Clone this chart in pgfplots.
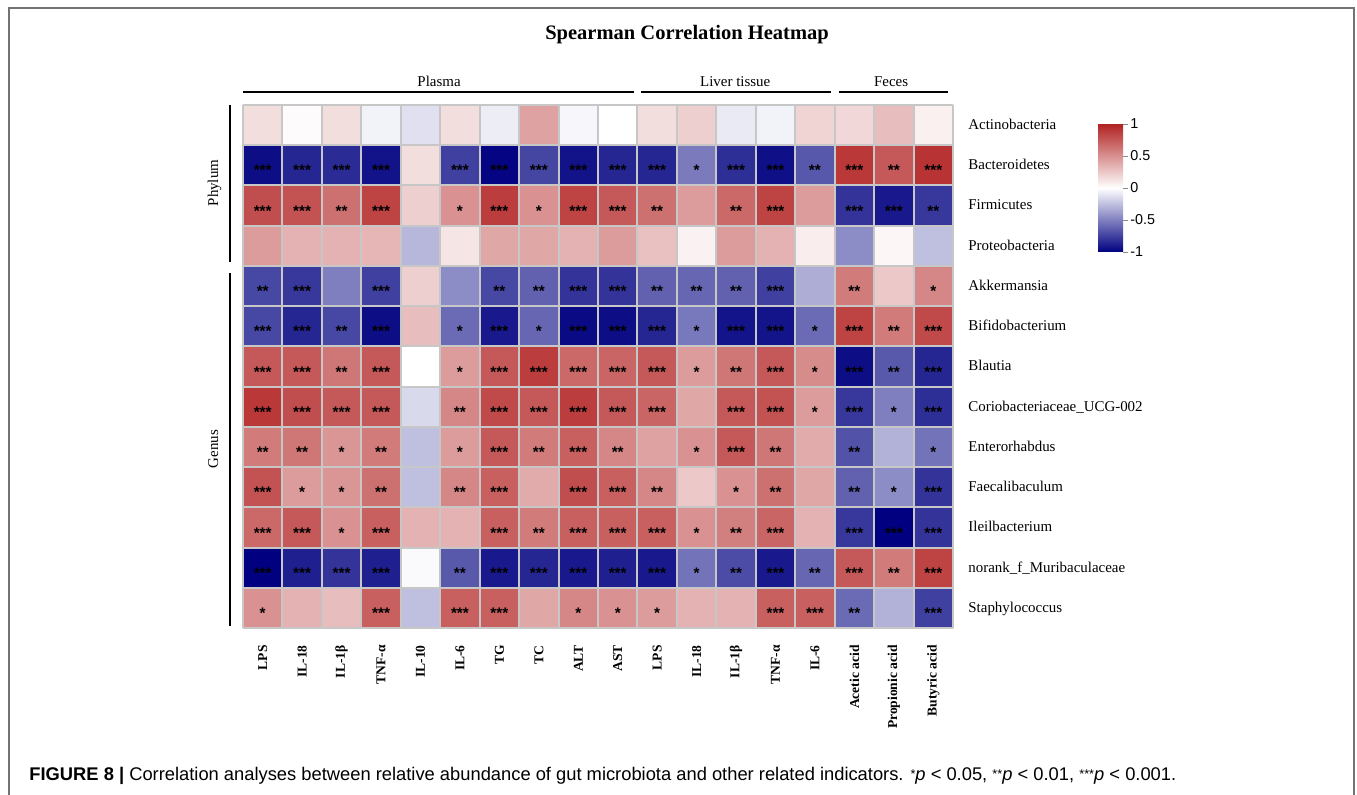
\documentclass[border=0pt]{standalone}
\usepackage{pgfplots}
\pgfplotsset{compat=1.18}
\usepackage{fontspec}
\setmainfont{Liberation Serif}
\setsansfont{Liberation Sans}
\newcommand\fs[1]{\fontsize{#1}{#1}\selectfont}
\newcommand\sast[1]{{\fs{6.4}\raisebox{1.3bp}{#1}}}
\tikzset{
  rl/.style={font=\fs{7.5}, anchor=base west, inner sep=0pt, yshift=-2.2bp},
  cl/.style={font=\bfseries\fs{6.8}, rotate=90, anchor=east, inner sep=0pt},
}
\begin{document}
\begin{tikzpicture}
\begin{axis}[
  x=19.722bp, y=20.115bp, y dir=reverse,
  xmin=-0.5, xmax=17.5, ymin=-0.5, ymax=12.5,
  clip=false, axis on top,
  axis line style={draw=none},
  xtick={-0.5,0.5,...,17.5}, ytick={-0.5,0.5,...,12.5},
  xticklabels={}, yticklabels={},
  major tick length=0pt,
  grid=major, major grid style={draw=black!22, line width=1bp},
  colormap={rwb}{rgb255=(0,0,128) rgb255=(255,255,255) rgb255=(178,34,34)},
  point meta min=-1, point meta max=1,
  colorbar,
  colorbar style={
    y dir=normal,
    at={(parent axis.north east)}, anchor=north west,
    xshift=64bp, yshift=-9.5bp,
    width=12.5bp, height=64bp,
    grid=none,
    ytick={-1,-0.5,0,0.5,1}, yticklabels={-1,-0.5,0,0.5,1},
    ytick pos=right, yticklabel pos=right,
    yticklabel style={font=\sffamily\fs{7.2}, inner sep=1bp},
    axis line style={draw=none},
    major tick length=2.5bp,
    tick align=outside,
    major tick style={draw=black!45, line width=0.4bp},
  },
]
\addplot[matrix plot*, mesh/cols=18, point meta=explicit] table[meta=c, row sep=\\] {
x y c\\
0 0 0.15\\ 1 0 0.02\\ 2 0 0.15\\ 3 0 -0.05\\ 4 0 -0.12\\ 5 0 0.15\\ 6 0 -0.07\\ 7 0 0.42\\ 8 0 -0.03\\ 9 0 0.00\\ 10 0 0.15\\ 11 0 0.22\\ 12 0 -0.08\\ 13 0 -0.05\\ 14 0 0.20\\ 15 0 0.18\\ 16 0 0.30\\ 17 0 0.07\\
0 1 -0.95\\ 1 1 -0.85\\ 2 1 -0.83\\ 3 1 -0.93\\ 4 1 0.15\\ 5 1 -0.75\\ 6 1 -0.98\\ 7 1 -0.73\\ 8 1 -0.93\\ 9 1 -0.85\\ 10 1 -0.85\\ 11 1 -0.52\\ 12 1 -0.82\\ 13 1 -0.94\\ 14 1 -0.66\\ 15 1 0.90\\ 16 1 0.75\\ 17 1 0.92\\
0 2 0.80\\ 1 2 0.78\\ 2 2 0.65\\ 3 2 0.85\\ 4 2 0.22\\ 5 2 0.50\\ 6 2 0.88\\ 7 2 0.50\\ 8 2 0.85\\ 9 2 0.75\\ 10 2 0.65\\ 11 2 0.45\\ 12 2 0.68\\ 13 2 0.85\\ 14 2 0.45\\ 15 2 -0.80\\ 16 2 -0.90\\ 17 2 -0.78\\
0 3 0.45\\ 1 3 0.35\\ 2 3 0.35\\ 3 3 0.33\\ 4 3 -0.28\\ 5 3 0.12\\ 6 3 0.40\\ 7 3 0.40\\ 8 3 0.35\\ 9 3 0.45\\ 10 3 0.28\\ 11 3 0.06\\ 12 3 0.45\\ 13 3 0.35\\ 14 3 0.08\\ 15 3 -0.45\\ 16 3 0.04\\ 17 3 -0.25\\
0 4 -0.72\\ 1 4 -0.78\\ 2 4 -0.50\\ 3 4 -0.75\\ 4 4 0.22\\ 5 4 -0.45\\ 6 4 -0.72\\ 7 4 -0.62\\ 8 4 -0.80\\ 9 4 -0.80\\ 10 4 -0.62\\ 11 4 -0.60\\ 12 4 -0.62\\ 13 4 -0.75\\ 14 4 -0.32\\ 15 4 0.60\\ 16 4 0.25\\ 17 4 0.55\\
0 5 -0.72\\ 1 5 -0.85\\ 2 5 -0.72\\ 3 5 -0.95\\ 4 5 0.30\\ 5 5 -0.58\\ 6 5 -0.90\\ 7 5 -0.60\\ 8 5 -0.96\\ 9 5 -0.95\\ 10 5 -0.85\\ 11 5 -0.53\\ 12 5 -0.92\\ 13 5 -0.92\\ 14 5 -0.58\\ 15 5 0.85\\ 16 5 0.60\\ 17 5 0.82\\
0 6 0.75\\ 1 6 0.75\\ 2 6 0.62\\ 3 6 0.75\\ 4 6 0.00\\ 5 6 0.45\\ 6 6 0.75\\ 7 6 0.88\\ 8 6 0.68\\ 9 6 0.70\\ 10 6 0.75\\ 11 6 0.45\\ 12 6 0.62\\ 13 6 0.75\\ 14 6 0.52\\ 15 6 -0.95\\ 16 6 -0.65\\ 17 6 -0.85\\
0 7 0.90\\ 1 7 0.80\\ 2 7 0.75\\ 3 7 0.75\\ 4 7 -0.15\\ 5 7 0.55\\ 6 7 0.82\\ 7 7 0.75\\ 8 7 0.88\\ 9 7 0.75\\ 10 7 0.70\\ 11 7 0.40\\ 12 7 0.75\\ 13 7 0.78\\ 14 7 0.45\\ 15 7 -0.78\\ 16 7 -0.50\\ 17 7 -0.82\\
0 8 0.60\\ 1 8 0.62\\ 2 8 0.48\\ 3 8 0.60\\ 4 8 -0.25\\ 5 8 0.45\\ 6 8 0.75\\ 7 8 0.60\\ 8 8 0.72\\ 9 8 0.55\\ 10 8 0.42\\ 11 8 0.50\\ 12 8 0.75\\ 13 8 0.62\\ 14 8 0.38\\ 15 8 -0.68\\ 16 8 -0.30\\ 17 8 -0.55\\
0 9 0.78\\ 1 9 0.45\\ 2 9 0.48\\ 3 9 0.65\\ 4 9 -0.25\\ 5 9 0.55\\ 6 9 0.72\\ 7 9 0.38\\ 8 9 0.80\\ 9 9 0.72\\ 10 9 0.55\\ 11 9 0.25\\ 12 9 0.50\\ 13 9 0.65\\ 14 9 0.40\\ 15 9 -0.62\\ 16 9 -0.45\\ 17 9 -0.80\\
0 10 0.68\\ 1 10 0.75\\ 2 10 0.50\\ 3 10 0.72\\ 4 10 0.35\\ 5 10 0.35\\ 6 10 0.72\\ 7 10 0.60\\ 8 10 0.72\\ 9 10 0.72\\ 10 10 0.72\\ 11 10 0.50\\ 12 10 0.58\\ 13 10 0.70\\ 14 10 0.35\\ 15 10 -0.78\\ 16 10 -1.00\\ 17 10 -0.80\\
0 11 -1.00\\ 1 11 -0.88\\ 2 11 -0.80\\ 3 11 -0.88\\ 4 11 -0.02\\ 5 11 -0.65\\ 6 11 -0.90\\ 7 11 -0.85\\ 8 11 -0.90\\ 9 11 -0.88\\ 10 11 -0.90\\ 11 11 -0.55\\ 12 11 -0.70\\ 13 11 -0.90\\ 14 11 -0.60\\ 15 11 0.75\\ 16 11 0.60\\ 17 11 0.85\\
0 12 0.50\\ 1 12 0.35\\ 2 12 0.30\\ 3 12 0.72\\ 4 12 -0.25\\ 5 12 0.72\\ 6 12 0.72\\ 7 12 0.40\\ 8 12 0.55\\ 9 12 0.50\\ 10 12 0.45\\ 11 12 0.35\\ 12 12 0.35\\ 13 12 0.72\\ 14 12 0.72\\ 15 12 -0.58\\ 16 12 -0.30\\ 17 12 -0.75\\
};
\addplot[draw=none, mark=none, point meta=explicit symbolic, nodes near coords,
  nodes near coords style={anchor=base, inner sep=0pt, yshift=-5.3bp, text=black, font=\sffamily\bfseries\fs{7.7}}]
  table[meta=s, row sep=\\] {
x y s\\
0 1 ***\\ 1 1 ***\\ 2 1 ***\\ 3 1 ***\\ 5 1 ***\\ 6 1 ***\\ 7 1 ***\\ 8 1 ***\\ 9 1 ***\\ 10 1 ***\\ 11 1 *\\ 12 1 ***\\ 13 1 ***\\ 14 1 **\\ 15 1 ***\\ 16 1 **\\ 17 1 ***\\
0 2 ***\\ 1 2 ***\\ 2 2 **\\ 3 2 ***\\ 5 2 *\\ 6 2 ***\\ 7 2 *\\ 8 2 ***\\ 9 2 ***\\ 10 2 **\\ 12 2 **\\ 13 2 ***\\ 15 2 ***\\ 16 2 ***\\ 17 2 **\\
0 4 **\\ 1 4 ***\\ 3 4 ***\\ 6 4 **\\ 7 4 **\\ 8 4 ***\\ 9 4 ***\\ 10 4 **\\ 11 4 **\\ 12 4 **\\ 13 4 ***\\ 15 4 **\\ 17 4 *\\
0 5 ***\\ 1 5 ***\\ 2 5 **\\ 3 5 ***\\ 5 5 *\\ 6 5 ***\\ 7 5 *\\ 8 5 ***\\ 9 5 ***\\ 10 5 ***\\ 11 5 *\\ 12 5 ***\\ 13 5 ***\\ 14 5 *\\ 15 5 ***\\ 16 5 **\\ 17 5 ***\\
0 6 ***\\ 1 6 ***\\ 2 6 **\\ 3 6 ***\\ 5 6 *\\ 6 6 ***\\ 7 6 ***\\ 8 6 ***\\ 9 6 ***\\ 10 6 ***\\ 11 6 *\\ 12 6 **\\ 13 6 ***\\ 14 6 *\\ 15 6 ***\\ 16 6 **\\ 17 6 ***\\
0 7 ***\\ 1 7 ***\\ 2 7 ***\\ 3 7 ***\\ 5 7 **\\ 6 7 ***\\ 7 7 ***\\ 8 7 ***\\ 9 7 ***\\ 10 7 ***\\ 12 7 ***\\ 13 7 ***\\ 14 7 *\\ 15 7 ***\\ 16 7 *\\ 17 7 ***\\
0 8 **\\ 1 8 **\\ 2 8 *\\ 3 8 **\\ 5 8 *\\ 6 8 ***\\ 7 8 **\\ 8 8 ***\\ 9 8 **\\ 11 8 *\\ 12 8 ***\\ 13 8 **\\ 15 8 **\\ 17 8 *\\
0 9 ***\\ 1 9 *\\ 2 9 *\\ 3 9 **\\ 5 9 **\\ 6 9 ***\\ 8 9 ***\\ 9 9 ***\\ 10 9 **\\ 12 9 *\\ 13 9 **\\ 15 9 **\\ 16 9 *\\ 17 9 ***\\
0 10 ***\\ 1 10 ***\\ 2 10 *\\ 3 10 ***\\ 6 10 ***\\ 7 10 **\\ 8 10 ***\\ 9 10 ***\\ 10 10 ***\\ 11 10 *\\ 12 10 **\\ 13 10 ***\\ 15 10 ***\\ 16 10 ***\\ 17 10 ***\\
0 11 ***\\ 1 11 ***\\ 2 11 ***\\ 3 11 ***\\ 5 11 **\\ 6 11 ***\\ 7 11 ***\\ 8 11 ***\\ 9 11 ***\\ 10 11 ***\\ 11 11 *\\ 12 11 **\\ 13 11 ***\\ 14 11 **\\ 15 11 ***\\ 16 11 **\\ 17 11 ***\\
0 12 *\\ 3 12 ***\\ 5 12 ***\\ 6 12 ***\\ 8 12 *\\ 9 12 *\\ 10 12 *\\ 13 12 ***\\ 14 12 ***\\ 15 12 **\\ 17 12 ***\\
};
% title
\node[font=\bfseries\fs{10.3}, anchor=base] at (axis cs:10.757,-2.116) {Spearman Correlation Heatmap};
% group labels and lines
\node[font=\fs{7.5}, anchor=base] at (axis cs:4.47,-0.972) {Plasma};
\node[font=\fs{7.5}, anchor=base] at (axis cs:11.98,-0.972) {Liver tissue};
\node[font=\fs{7.5}, anchor=base] at (axis cs:15.93,-0.972) {Feces};
\draw[black, line width=1bp] (axis cs:-0.5,-0.823) -- (axis cs:9.4,-0.823);
\draw[black, line width=1bp] (axis cs:9.6,-0.823) -- (axis cs:14.4,-0.823);
\draw[black, line width=1bp] (axis cs:14.6,-0.823) -- (axis cs:17.37,-0.823);
% left brackets
\draw[black, line width=1bp] (axis cs:-0.842,-0.5) -- (axis cs:-0.842,3.40);
\draw[black, line width=1bp] (axis cs:-0.842,3.68) -- (axis cs:-0.842,12.45);
\node[font=\fs{7.5}, rotate=90, anchor=base] at (axis cs:-1.134,1.44) {Phylum};
\node[font=\fs{7.5}, rotate=90, anchor=base] at (axis cs:-1.134,8.05) {Genus};
% row labels
\node[rl] at (axis cs:17.88,0) {Actinobacteria};
\node[rl] at (axis cs:17.88,1) {Bacteroidetes};
\node[rl] at (axis cs:17.88,2) {Firmicutes};
\node[rl] at (axis cs:17.88,3) {Proteobacteria};
\node[rl] at (axis cs:17.88,4) {Akkermansia};
\node[rl] at (axis cs:17.88,5) {Bifidobacterium};
\node[rl] at (axis cs:17.88,6) {Blautia};
\node[rl] at (axis cs:17.88,7) {Coriobacteriaceae\_UCG-002};
\node[rl] at (axis cs:17.88,8) {Enterorhabdus};
\node[rl] at (axis cs:17.88,9) {Faecalibaculum};
\node[rl] at (axis cs:17.88,10) {Ileilbacterium};
\node[rl] at (axis cs:17.88,11) {norank\_f\_Muribaculaceae};
\node[rl] at (axis cs:17.88,12) {Staphylococcus};
% column labels
\node[cl] at (axis cs:0,12.92) {LPS};
\node[cl] at (axis cs:1,12.92) {IL-18};
\node[cl] at (axis cs:2,12.92) {IL-1β};
\node[cl] at (axis cs:3,12.92) {TNF-α};
\node[cl] at (axis cs:4,12.92) {IL-10};
\node[cl] at (axis cs:5,12.92) {IL-6};
\node[cl] at (axis cs:6,12.92) {TG};
\node[cl] at (axis cs:7,12.92) {TC};
\node[cl] at (axis cs:8,12.92) {ALT};
\node[cl] at (axis cs:9,12.92) {AST};
\node[cl] at (axis cs:10,12.92) {LPS};
\node[cl] at (axis cs:11,12.92) {IL-18};
\node[cl] at (axis cs:12,12.92) {IL-1β};
\node[cl] at (axis cs:13,12.92) {TNF-α};
\node[cl] at (axis cs:14,12.92) {IL-6};
\node[cl] at (axis cs:15,12.92) {Acetic acid};
\node[cl] at (axis cs:16,12.92) {Propionic acid};
\node[cl] at (axis cs:17,12.92) {Butyric acid};
% caption
\node[font=\sffamily\fs{9.2}, anchor=base west, inner sep=0pt] at (axis cs:-5.925,16.30) {{\bfseries FIGURE 8 |} Correlation analyses between relative abundance of gut microbiota and other related indicators. \sast{*}\textit{p} < 0.05, \sast{**}\textit{p} < 0.01, \sast{***}\textit{p} < 0.001.};
% frame
\draw[black!55, line width=1bp] (axis cs:-6.432,16.651) -- (axis cs:-6.432,-2.911) -- (axis cs:27.667,-2.911) -- (axis cs:27.667,16.651);
\coordinate (bbA) at (axis cs:-6.661,16.651);
\coordinate (bbB) at (axis cs:27.742,-3.110);
\end{axis}
\pgfresetboundingbox
\path[use as bounding box] (bbA) rectangle (bbB);
\end{tikzpicture}
\end{document}
